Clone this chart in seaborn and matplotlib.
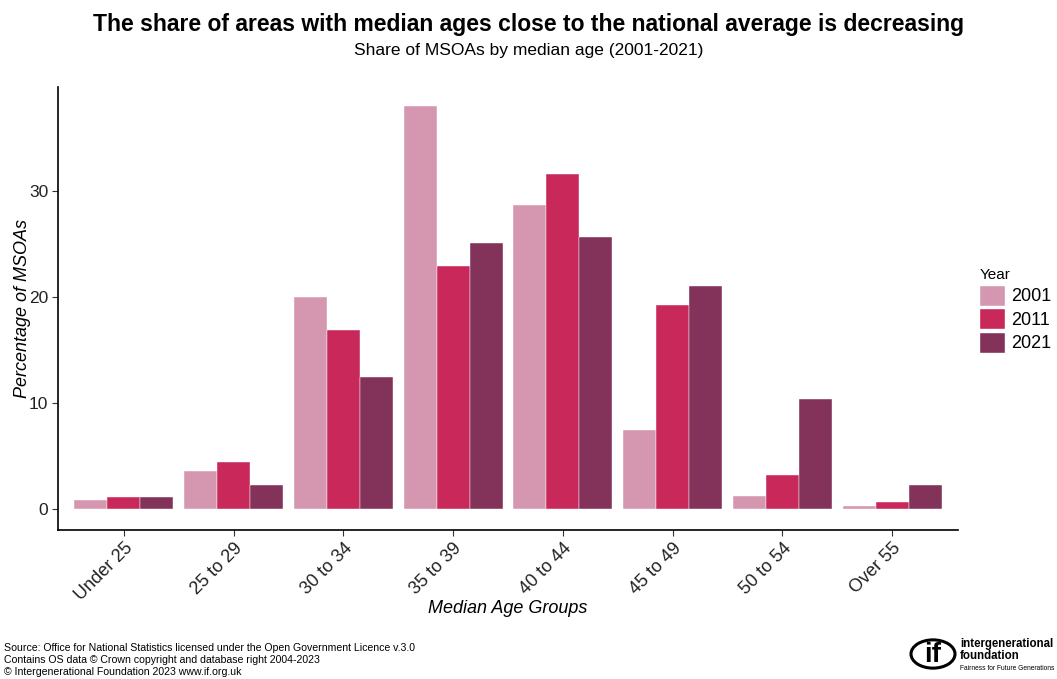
import matplotlib
matplotlib.use("Agg")
import matplotlib.pyplot as plt
import seaborn as sns
import pandas as pd
from matplotlib.patches import Circle, Patch

categories = ["Under 25", "25 to 29", "30 to 34", "35 to 39", "40 to 44", "45 to 49", "50 to 54", "Over 55"]
years = ["2001", "2011", "2021"]
share_2001 = [0.8, 3.55, 20.0, 38.0, 28.7, 7.4, 1.2, 0.3]
share_2011 = [1.15, 4.4, 16.9, 22.9, 31.6, 19.2, 3.2, 0.65]
share_2021 = [1.1, 2.2, 12.4, 25.1, 25.6, 21.0, 10.4, 2.2]
colors = ["#D597B0", "#C8285A", "#83325A"]

df = pd.DataFrame({
    "group": categories * 3,
    "Year": [years[0]] * 8 + [years[1]] * 8 + [years[2]] * 8,
    "share": share_2001 + share_2011 + share_2021,
})

sns.set_style("white")
plt.rcParams["font.family"] = ["Liberation Sans", "DejaVu Sans"]
plt.rcParams["text.color"] = "black"

fig = plt.figure(figsize=(10.57, 6.79), dpi=100)
ax = fig.add_axes([58 / 1057, 1 - 530 / 679, 900 / 1057, 443 / 679])

sns.barplot(data=df, x="group", y="share", hue="Year", palette=colors,
            order=categories, hue_order=years, width=0.9, ax=ax,
            edgecolor="white", linewidth=0.3, saturation=1, legend=False)

ax.set_xlim(-0.6, 7.6)
ax.set_ylim(-2.0, 39.8)
ax.set_yticks([0, 10, 20, 30])
ax.set_yticklabels(["0", "10", "20", "30"], fontsize=12.5, color="#222222")
ax.set_xticks(range(len(categories)))
ax.set_xticklabels(categories, rotation=45, ha="right", rotation_mode="anchor", fontsize=13, color="#222222")
ax.tick_params(axis="both", direction="out", length=4, width=0.8, color="#333333", bottom=True, left=True, pad=3)
ax.set_xlabel("Median Age Groups", fontsize=13, style="italic", color="black")
ax.set_ylabel("Percentage of MSOAs", fontsize=13, style="italic", color="black")
ax.yaxis.set_label_coords(-27 / 900, 0.5)
ax.xaxis.set_label_coords(0.5, -70 / 443)
for s in ["top", "right"]:
    ax.spines[s].set_visible(False)
for s in ["left", "bottom"]:
    ax.spines[s].set_color("black")
    ax.spines[s].set_linewidth(1.2)
ax.grid(False)

handles = [Patch(facecolor=c, edgecolor="white", label=y) for c, y in zip(colors, years)]
leg = fig.legend(handles=handles, title="Year", loc="upper left", bbox_to_anchor=(972 / 1057, 1 - 261 / 679),
                 frameon=False, fontsize=13, title_fontsize=11, handlelength=1.4, handleheight=1.4,
                 handletextpad=0.35, labelspacing=0.15, borderaxespad=0)
leg._legend_box.align = "left"

fig.text(0.5, 1 - 24 / 679, "The share of areas with median ages close to the national average is decreasing",
         ha="center", va="center", fontsize=16.5, fontweight="bold", color="black")
fig.text(0.5, 1 - 50 / 679, "Share of MSOAs by median age (2001-2021)", ha="center", va="center", fontsize=12.5,
         color="black")

fig.text(4 / 1057, 1 - 660 / 679,
         "Source: Office for National Statistics licensed under the Open Government Licence v.3.0\n"
         "Contains OS data \u00a9 Crown copyright and database right 2004-2023\n"
         "\u00a9 Intergenerational Foundation 2023 www.if.org.uk",
         ha="left", va="center", fontsize=7.6, linespacing=1.3, color="black")

# logo
circ = Circle((933 / 1057, 1 - 654 / 679), 22 / 1057, transform=fig.transFigure, fill=False,
              edgecolor="black", linewidth=2.2)
fig.add_artist(circ)
fig.text(933 / 1057, 1 - 655 / 679, "if", ha="center", va="center", fontsize=20, fontweight="bold")
fig.text(960 / 1057, 1 - 650 / 679, "intergenerational\nfoundation", ha="left", va="center",
         fontsize=8.3, fontweight="bold", linespacing=1.0)
fig.text(960 / 1057, 1 - 668 / 679, "Fairness for Future Generations", ha="left", va="center", fontsize=4.8)

fig.savefig("out.png", dpi=100)
